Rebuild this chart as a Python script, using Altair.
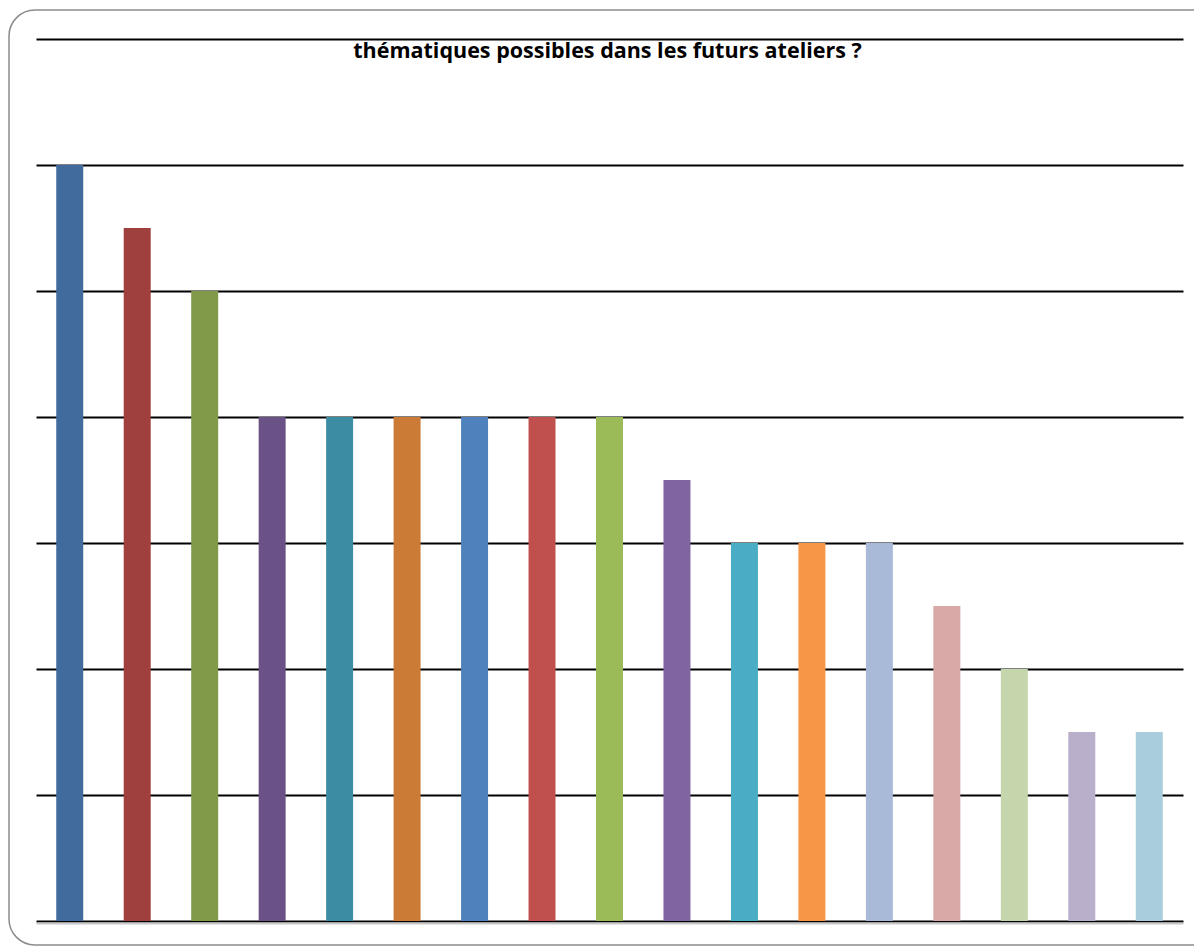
import altair as alt
import pandas as pd

title_text = "thématiques possibles dans les futurs ateliers ?"
categories = [f"Thème {i}" for i in range(1, 18)]
values = [12, 11, 10, 8, 8, 8, 8, 8, 8, 7, 6, 6, 6, 5, 4, 3, 3]
colors = ["#416B9C", "#9F403F", "#809A4A", "#6A5286", "#3C8CA4", "#CC7B37",
          "#4F81BD", "#C0504D", "#9BBB59", "#8064A2", "#4BACC6", "#F79646",
          "#A9BAD8", "#D9A9A8", "#C6D6AC", "#B9AFCB", "#A9CDDD"]

W, H = 1147, 882

df = pd.DataFrame({"cat": categories, "val": values})

bars = alt.Chart(df).mark_bar().encode(
    x=alt.X("cat:N", sort=categories,
            scale=alt.Scale(paddingInner=0.6, paddingOuter=0.3),
            axis=alt.Axis(labels=False, ticks=False, title=None,
                          domain=True, domainColor="#c8c8c8", domainWidth=2,
                          offset=2)),
    y=alt.Y("val:Q", scale=alt.Scale(domain=[0, 14], nice=False),
            axis=alt.Axis(values=[0, 2, 4, 6, 8, 10, 12, 14], grid=True,
                          gridColor="#000000", gridWidth=2, labels=False,
                          ticks=False, domain=False, title=None)),
    color=alt.Color("cat:N", sort=categories,
                    scale=alt.Scale(domain=categories, range=colors),
                    legend=None),
)

title = alt.Chart(pd.DataFrame({"t": [title_text]})).mark_text(
    font="Open Sans", fontSize=21.5, fontWeight="bold", color="#000000",
    align="center", baseline="alphabetic"
).encode(text="t:N", x=alt.value(W / 2 - 2), y=alt.value(18.5))

frame = alt.Chart(pd.DataFrame({"f": [1]})).mark_rect(
    fill=None, stroke="#8c8c8c", strokeWidth=1.5, cornerRadius=26, clip=False
).encode(x=alt.value(-27), x2=alt.value(1200), y=alt.value(-29), y2=alt.value(906))

chart = alt.layer(bars, title, frame).properties(
    width=W, height=H,
    autosize=alt.AutoSizeParams(type="none"),
    padding={"left": 28, "top": 31, "right": 11, "bottom": 25},
).configure(background="white", view=alt.ViewConfig(stroke=None))

chart.save("out.html", embed_options={"renderer": "svg", "actions": False})
